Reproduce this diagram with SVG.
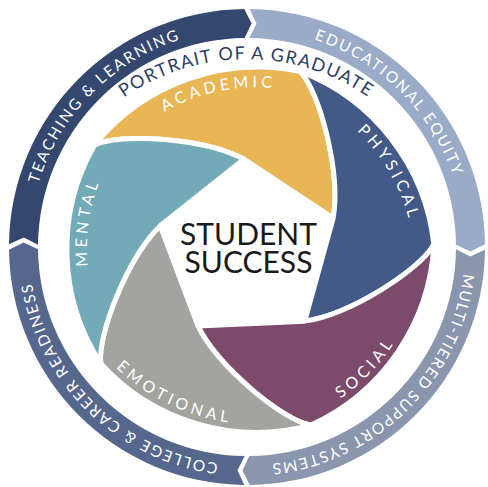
<svg xmlns="http://www.w3.org/2000/svg" xmlns:xlink="http://www.w3.org/1999/xlink" width="488" height="487" viewBox="0 0 488 487">
<style>
.ring{stroke:none}
.rtxt{font-family:Lato,"Open Sans","Liberation Sans",sans-serif;font-size:15.5px;fill:#ffffff}
.petal{stroke:#ffffff;stroke-width:5;stroke-linejoin:round}
.plbl{font-family:Lato,"Open Sans","Liberation Sans",sans-serif;font-size:16px;letter-spacing:4px;fill:#ffffff}
.pog{font-family:Lato,"Open Sans","Liberation Sans",sans-serif;font-size:18px;letter-spacing:1.4px;fill:#2e3d64}
.center{font-family:Lato,"Open Sans","Liberation Sans",sans-serif;font-size:30px;fill:#1a1a1a;text-anchor:middle}
</style>
<defs>
<path id="ringPath" d="M 29 247 A 218 218 0 1 1 465 247 A 218 218 0 1 1 29 247"/>
<path id="pogPath" d="M 60.2 166.7 A 215 215 0 0 1 432.6 166.7"/>
<path id="petalShape" d="M 94.4 145.2 A 210 210 0 0 1 300.2 71.5 C 320 92 341 173 333.2 218 L 243.9 159.1 C 203.5 137.8 120 132.7 94.4 145.2 Z"/>
<path id="lblN" d="M 93.2 182.2 A 190 190 0 0 1 379.8 131.7"/>
<path id="lblF" d="M 387.5 122.5 A 202 202 0 0 0 82.8 176.2"/>
</defs>
<rect width="488" height="487" fill="#ffffff"/>

<g id="teaching-learning">
<path class="ring" fill="#33476f" d="M 9.01 244.34 A 238 238 0 0 1 244.34 9.01 L 251.52 23.54 L 244.67 38.01 A 209 209 0 0 0 38.01 244.67 L 23.70 237.49 Z"/>
<text class="rtxt" text-anchor="middle" letter-spacing="2"><textPath href="#ringPath" startOffset="12.39%">TEACHING &amp; LEARNING</textPath></text>
</g>
<g id="educational-equity">
<path class="ring" fill="#9aabc8" d="M 249.66 9.01 A 238 238 0 0 1 484.99 244.34 L 470.46 251.52 L 455.99 244.67 A 209 209 0 0 0 249.33 38.01 L 256.51 23.70 Z"/>
<text class="rtxt" text-anchor="middle" letter-spacing="2"><textPath href="#ringPath" startOffset="37.4%">EDUCATIONAL EQUITY</textPath></text>
</g>
<g id="mtss">
<path class="ring" fill="#8a96ae" d="M 484.99 249.66 A 238 238 0 0 1 249.66 484.99 L 242.48 470.46 L 249.33 455.99 A 209 209 0 0 0 455.99 249.33 L 470.30 256.51 Z"/>
<text class="rtxt" text-anchor="middle" letter-spacing="1.6"><textPath href="#ringPath" startOffset="62.61%">MULTI-TIERED SUPPORT SYSTEMS</textPath></text>
</g>
<g id="college-career">
<path class="ring" fill="#56678d" d="M 244.34 484.99 A 238 238 0 0 1 9.01 249.66 L 23.54 242.48 L 38.01 249.33 A 209 209 0 0 0 244.67 455.99 L 237.49 470.30 Z"/>
<text class="rtxt" text-anchor="middle" letter-spacing="1.8"><textPath href="#ringPath" startOffset="87.28%">COLLEGE &amp; CAREER READINESS</textPath></text>
</g>

<g id="portrait-title">
<text class="pog" text-anchor="middle"><textPath href="#pogPath" startOffset="50%">PORTRAIT OF A GRADUATE</textPath></text>
</g>

<g id="academic">
<use href="#petalShape" class="petal" fill="#e8b655"/>
<text class="plbl" text-anchor="middle"><textPath href="#lblN" startOffset="48%">ACADEMIC</textPath></text>
</g>
<g id="physical" transform="rotate(72 248 250)">
<use href="#petalShape" class="petal" fill="#435a89"/>
<text class="plbl" text-anchor="middle"><textPath href="#lblN" startOffset="48%">PHYSICAL</textPath></text>
</g>
<g id="social" transform="rotate(144 248 250)">
<use href="#petalShape" class="petal" fill="#7c4a6b"/>
<text class="plbl" text-anchor="middle"><textPath href="#lblF" startOffset="50.5%">SOCIAL</textPath></text>
</g>
<g id="emotional" transform="rotate(216 248 250)">
<use href="#petalShape" class="petal" fill="#a3a39f"/>
<text class="plbl" text-anchor="middle"><textPath href="#lblF" startOffset="50.5%">EMOTIONAL</textPath></text>
</g>
<g id="mental" transform="rotate(288 248 250)">
<use href="#petalShape" class="petal" fill="#73aab7"/>
<text class="plbl" text-anchor="middle"><textPath href="#lblN" startOffset="50%">MENTAL</textPath></text>
</g>

<g id="student-success">
<text class="center" x="248.5" y="245">STUDENT</text>
<text class="center" x="248.5" y="273">SUCCESS</text>
</g>
<g id="connectors"/>
</svg>
